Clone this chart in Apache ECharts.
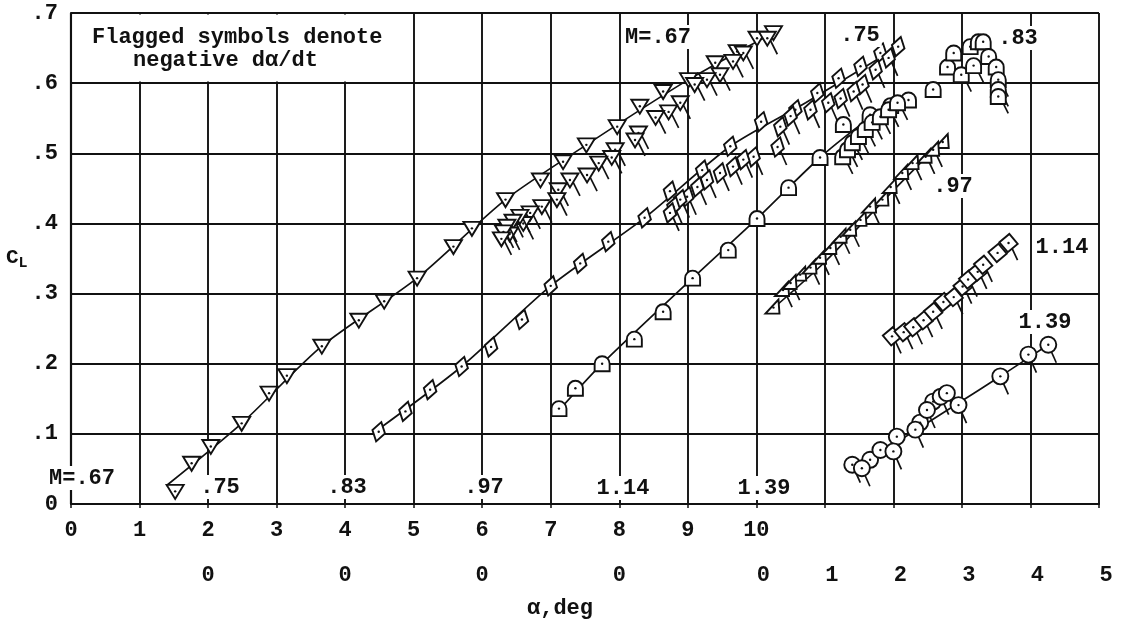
<!DOCTYPE html>
<html>
<head>
<meta charset="utf-8">
<script src="https://cdn.jsdelivr.net/npm/echarts@6/dist/echarts.min.js"></script>
<style>
  html, body { margin: 0; background: #fff; }
  #chart { width: 1123px; height: 623px; }
</style>
</head>
<body>
<div id="chart"></div>
<script>
// each Mach number has its own alpha origin on the shared axis
const machNames = ['.67', '.75', '.83', '.97', '1.14', '1.39'];
const alphaZero = [0, 2, 4, 6, 8, 10];

// [alpha deg, CL]  -- plain symbols (positive da/dt)
const m067 = [[1.52,0.018],[1.76,0.058],[2.04,0.082],[2.49,0.115],[2.89,0.158],[3.15,0.183],[3.66,0.225],[4.20,0.262],[4.57,0.289],[5.05,0.322],[5.58,0.367],[5.85,0.393],[6.34,0.434],[6.85,0.462],[7.18,0.488],[7.52,0.512],[7.97,0.538],[8.30,0.567],[8.64,0.588],[9.01,0.605],[9.40,0.629],[9.72,0.645],[10.01,0.664],[10.25,0.672]];
const m075 = [[2.49,0.103],[2.88,0.132],[3.24,0.163],[3.70,0.196],[4.13,0.224],[4.58,0.263],[5.00,0.311],[5.43,0.343],[5.84,0.374],[6.37,0.408],[6.74,0.446],[7.21,0.476],[7.62,0.510],[8.07,0.545],[8.57,0.562],[8.89,0.586],[9.20,0.607],[9.52,0.624],[9.81,0.643],[10.07,0.652]];
const m083 = [[3.12,0.136],[3.36,0.165],[3.75,0.200],[4.22,0.235],[4.64,0.274],[5.07,0.322],[5.59,0.362],[6.01,0.407],[6.47,0.451],[6.93,0.494],[7.27,0.541],[7.66,0.555],[7.96,0.568],[8.22,0.576],[8.58,0.591],[8.79,0.623],[8.88,0.643],[9.12,0.652],[9.24,0.659],[9.31,0.659]];
const m097 = [[4.25,0.280],[4.64,0.327],[5.52,0.405],[5.84,0.434],[6.72,0.516]];
const m114 = [[4.73,0.288],[5.52,0.358]];
const m139 = [[1.66,0.063],[1.81,0.077],[2.05,0.096],[2.39,0.116],[2.58,0.146]];

// flagged symbols (negative da/dt)
const m067Flag = [[10.16,0.664],[9.81,0.643],[9.66,0.631],[9.47,0.612],[9.28,0.605],[9.10,0.598],[8.89,0.572],[8.72,0.559],[8.53,0.551],[8.28,0.529],[8.23,0.519],[7.94,0.505],[7.89,0.494],[7.70,0.486],[7.53,0.469],[7.28,0.462],[7.11,0.448],[7.09,0.434],[6.87,0.424],[6.70,0.415],[6.60,0.400],[6.55,0.410],[6.45,0.403],[6.40,0.385],[6.36,0.396],[6.31,0.388],[6.28,0.378]];
const m075Flag = [[9.93,0.636],[9.74,0.619],[9.55,0.598],[9.42,0.588],[9.23,0.578],[9.05,0.572],[8.79,0.562],[8.50,0.553],[8.35,0.538],[8.31,0.509],[7.96,0.495],[7.81,0.491],[7.66,0.481],[7.47,0.472],[7.28,0.462],[7.14,0.452],[6.99,0.438],[6.89,0.434],[6.79,0.424],[6.74,0.415]];
const m083Flag = [[7.26,0.495],[7.33,0.505],[7.40,0.515],[7.49,0.524],[7.59,0.534],[7.69,0.544],[7.81,0.552],[7.93,0.562],[8.06,0.572],[8.99,0.612],[9.17,0.625],[9.39,0.638],[9.50,0.623],[9.53,0.605],[9.53,0.591],[9.53,0.581]];
const m097Flag = [[4.39,0.305],[4.50,0.315],[4.79,0.337],[4.93,0.351],[5.08,0.365],[5.23,0.381],[5.37,0.391],[5.66,0.424],[5.96,0.452],[6.13,0.472],[6.28,0.486],[6.47,0.495],[6.58,0.505]];
const m114Flag = [[3.98,0.239],[4.15,0.245],[4.29,0.252],[4.44,0.262],[4.58,0.274],[4.88,0.295],[5.01,0.310],[5.09,0.320],[5.23,0.331],[5.31,0.341],[5.68,0.372]];
const m139Flag = [[1.40,0.056],[1.54,0.051],[2.00,0.075],[2.32,0.106],[2.49,0.134],[2.69,0.153],[2.78,0.158],[2.95,0.141],[3.56,0.182],[3.97,0.213],[4.26,0.227]];

// faired curves
const m067Fair = [[1.39,0.026],[2.49,0.115],[3.66,0.225],[5.05,0.322],[6.34,0.434],[7.52,0.512],[9.01,0.605],[10.25,0.672]];
const m075Fair = [[2.41,0.101],[3.70,0.196],[5.00,0.311],[6.37,0.408],[7.62,0.510],[8.72,0.572],[10.07,0.652]];
const m083Fair = [[3.07,0.128],[3.75,0.200],[5.07,0.322],[6.01,0.407],[6.93,0.494],[7.66,0.550],[8.20,0.575]];
const m097Fair = [[4.20,0.275],[5.00,0.345],[6.00,0.447],[6.72,0.518]];
const m139Fair = [[1.35,0.045],[2.00,0.085],[2.95,0.144],[3.56,0.182],[4.26,0.227]];

const plainSets = [m067, m075, m083, m097, m114, m139];
const flagSets = [m067Flag, m075Flag, m083Flag, m097Flag, m114Flag, m139Flag];
const fairSets = [m067Fair, m075Fair, m083Fair, m097Fair, null, m139Fair];
const kinds = ['tri', 'dia', 'tomb', 'rtri', 'sq', 'circ'];

const INK = '#111';
const FONT = '"Liberation Mono", "DejaVu Sans Mono", monospace';

function rot(pts, deg) {
    var a = deg * Math.PI / 180;
    return pts.map(function (p) {
        return [p[0] * Math.cos(a) - p[1] * Math.sin(a), p[0] * Math.sin(a) + p[1] * Math.cos(a)];
    });
}

const flagVec = {
    tri: [2, 0, 10, 16], dia: [2, 2, 9, 18], tomb: [3, 3, 10, 17],
    rtri: [2, 2, 9, 17], sq: [2, 2, 9, 17], circ: [0, 0, 8, 18]
};

function symbolShape(kind) {
    var st = { fill: '#fff', stroke: INK, lineWidth: 1.9 };
    if (kind === 'tri') return { type: 'polygon', shape: { points: [[-8.5, -6.5], [8.5, -6.5], [0, 7.5]] }, style: st };
    if (kind === 'dia') return { type: 'polygon', shape: { points: rot([[0, -10], [6.5, 0], [0, 10], [-6.5, 0]], 15) }, style: st };
    if (kind === 'tomb') return { type: 'path', shape: { pathData: 'M0 14L14 14L14 7A7 7 0 0 0 0 7Z', x: -7.5, y: -7.5, width: 15, height: 15, layout: 'cover' }, style: st };
    if (kind === 'rtri') return { type: 'polygon', shape: { points: [[-8, 6], [6, 6], [5, -8]] }, style: st };
    if (kind === 'sq') return { type: 'polygon', shape: { points: rot([[-6.5, -6.5], [6.5, -6.5], [6.5, 6.5], [-6.5, 6.5]], -40) }, style: st };
    return { type: 'circle', shape: { cx: 0, cy: 0, r: 8 }, style: st };
}

function makeRender(kind) {
    return function (params, api) {
        var pt = api.coord([api.value(0), api.value(1)]);
        var kids = [];
        if (api.value(2) === 1) {
            var f = flagVec[kind];
            kids.push({ type: 'line', shape: { x1: f[0], y1: f[1], x2: f[2], y2: f[3] }, style: { stroke: INK, lineWidth: 1.7 } });
        }
        kids.push(symbolShape(kind));
        kids.push({ type: 'circle', shape: { cx: 0, cy: 0, r: 1.2 }, style: { fill: INK } });
        return { type: 'group', x: pt[0], y: pt[1], children: kids };
    };
}

var series = [];
for (var i = 0; i < machNames.length; i++) {
    var off = alphaZero[i];
    if (fairSets[i]) {
        series.push({
            name: 'M=' + machNames[i] + ' fair', type: 'line', silent: true, z: 2,
            data: fairSets[i].map(function (p) { return [p[0] + off, p[1]]; }),
            showSymbol: false, smooth: 0.25,
            lineStyle: { color: INK, width: 1.7 }
        });
    }
    var pts = plainSets[i].map(function (p) { return [p[0] + off, p[1], 0]; })
        .concat(flagSets[i].map(function (p) { return [p[0] + off, p[1], 1]; }));
    series.push({
        name: 'M=' + machNames[i], type: 'custom', silent: true, z: 3,
        renderItem: makeRender(kinds[i]),
        encode: { x: 0, y: 1 },
        data: pts
    });
}

function label(text, x, y, size, bg) {
    return {
        type: 'text', x: x, y: y, z: 60,
        style: {
            text: text, font: 'bold ' + (size || 21) + 'px ' + FONT, fill: INK,
            align: 'center', verticalAlign: 'middle', textAlign: 'center', textVerticalAlign: 'middle',
            backgroundColor: bg ? '#fff' : null, padding: bg ? [1, 2] : 0
        }
    };
}

var graphics = [
    { type: 'rect', z: 50, shape: { x: 72.5, y: 14.5, width: 340, height: 67 }, style: { fill: '#fff' } },
    { type: 'text', x: 92, y: 37, z: 60, style: { text: 'Flagged symbols denote', font: 'bold 22px ' + FONT, fill: INK, align: 'left', verticalAlign: 'middle', textAlign: 'left', textVerticalAlign: 'middle' } },
    { type: 'text', x: 133, y: 60, z: 60, style: { text: 'negative dα/dt', font: 'bold 22px ' + FONT, fill: INK, align: 'left', verticalAlign: 'middle', textAlign: 'left', textVerticalAlign: 'middle' } },
    // zero markers for each alpha origin
    label('M=.67', 82, 478, 22, true),
    label('.75', 220, 487, 22, true),
    label('.83', 347, 487, 22, true),
    label('.97', 484, 487, 22, true),
    label('1.14', 623, 488, 22, true),
    label('1.39', 764, 488, 22, true),
    // curve tags
    label('M=.67', 658, 37, 22, true),
    label('.75', 860, 35, 22, true),
    label('.83', 1018, 38, 22, true),
    label('.97', 953, 186, 22, true),
    label('1.14', 1062, 247, 22, true),
    label('1.39', 1045, 322, 22, true),
    // axis titles
    {
        type: 'text', x: 6, y: 258, z: 60,
        style: {
            text: '{c|C}{s|L}', fill: INK, verticalAlign: 'middle', textVerticalAlign: 'middle',
            rich: {
                c: { font: 'bold 21px ' + FONT, fill: INK },
                s: { font: 'bold 15px ' + FONT, fill: INK, padding: [10, 0, 0, 0] }
            }
        }
    },
    label('α,deg', 560, 608, 22, false)
];

var tickFont = { fontFamily: FONT, fontWeight: 'bold', fontSize: 22, color: INK };

var chart = echarts.init(document.getElementById('chart'), null, { renderer: 'canvas' });
chart.setOption({
    animation: false,
    backgroundColor: '#fff',
    grid: { left: 71, right: 24, top: 13, bottom: 119, containLabel: false },
    xAxis: [{
        type: 'value', min: 0, max: 15, interval: 1,
        axisLine: { show: true, onZero: false, lineStyle: { color: INK, width: 2.2 } },
        axisTick: { show: true, length: 4, lineStyle: { color: INK, width: 1.5 } },
        splitLine: { show: true, lineStyle: { color: INK, width: 1.9 } },
        axisLabel: Object.assign({ margin: 15, formatter: function (v) { return v <= 10 ? String(v) : ''; } }, tickFont)
    }, {
        type: 'value', min: 0, max: 15, interval: 1, position: 'bottom', offset: 45,
        axisLine: { show: false }, axisTick: { show: false }, splitLine: { show: false },
        axisLabel: Object.assign({
            margin: 15,
            formatter: function (v) {
                if (v === 2 || v === 4 || v === 6 || v === 8) return '0';
                if (v >= 10) return '{r|' + (v - 10) + '}';
                return '';
            },
            rich: { r: { fontFamily: FONT, fontWeight: 'bold', fontSize: 22, color: INK, padding: [0, 0, 0, 14] } }
        }, tickFont)
    }],
    yAxis: {
        type: 'value', min: 0, max: 0.7, interval: 0.1,
        axisLine: { show: true, lineStyle: { color: INK, width: 2.2 } },
        axisTick: { show: false },
        splitLine: { show: true, lineStyle: { color: INK, width: 1.9 } },
        axisLabel: Object.assign({
            margin: 13,
            formatter: function (v) { return v === 0 ? '0' : '.' + Math.round(v * 10); }
        }, tickFont)
    },
    graphic: graphics,
    series: series
});
</script>
</body>
</html>
